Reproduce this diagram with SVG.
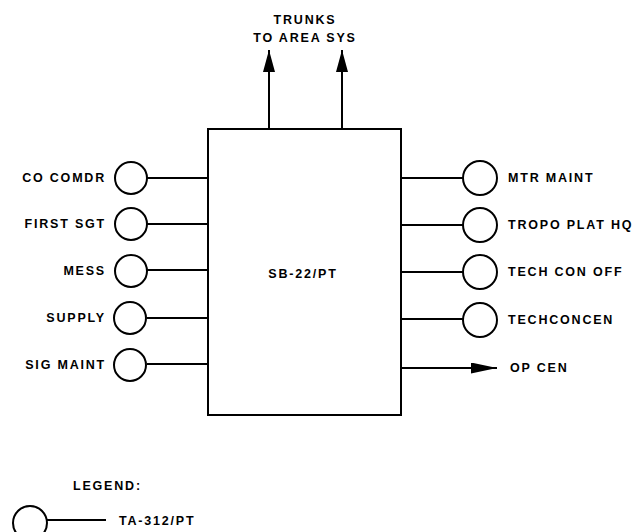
<svg xmlns="http://www.w3.org/2000/svg" width="638" height="532" viewBox="0 0 638 532">
<style>
text{font-family:"Liberation Sans",Arial,sans-serif;font-weight:bold;font-size:12.5px;letter-spacing:1.8px;fill:#000}
.l{text-anchor:end}
.c{text-anchor:middle}
circle{fill:#fff;stroke:#000;stroke-width:2}
line,rect{stroke:#000;stroke-width:2}
rect{fill:#fff}
</style>
<defs>
<marker id="up" markerWidth="22" markerHeight="12" refX="22" refY="6" orient="auto" markerUnits="userSpaceOnUse" viewBox="0 0 22 12">
<path d="M0,0 L22,6 L0,12 Z" fill="#000"/>
</marker>
<marker id="rt" markerWidth="26" markerHeight="11" refX="26" refY="5.5" orient="auto" markerUnits="userSpaceOnUse" viewBox="0 0 26 11">
<path d="M0,0 L26,5.5 L0,11 Z" fill="#000"/>
</marker>
</defs>
<g id="connectors">
<line x1="269" y1="129" x2="269" y2="50" marker-end="url(#up)"/>
<line x1="342" y1="129" x2="342" y2="50" marker-end="url(#up)"/>
<line x1="147" y1="178" x2="208" y2="178"/>
<line x1="147" y1="224" x2="208" y2="224"/>
<line x1="147" y1="270" x2="208" y2="270"/>
<line x1="147" y1="318" x2="208" y2="318"/>
<line x1="147" y1="364" x2="208" y2="364"/>
<line x1="401" y1="178" x2="463" y2="178"/>
<line x1="401" y1="225" x2="463" y2="225"/>
<line x1="401" y1="272" x2="463" y2="272"/>
<line x1="401" y1="319" x2="463" y2="319"/>
<line x1="401" y1="368" x2="497" y2="368" marker-end="url(#rt)"/>
</g>
<g id="trunks"><text class="c" x="305" y="24">TRUNKS</text><text class="c" x="305" y="42">TO AREA SYS</text></g>
<g id="sb22"><rect x="208" y="129" width="193" height="286"/><text class="c" x="303" y="278">SB-22/PT</text></g>
<g id="co-comdr"><circle cx="131" cy="178" r="16"/><text class="l" x="106" y="182">CO COMDR</text></g>
<g id="first-sgt"><circle cx="131" cy="224" r="16"/><text class="l" x="106" y="228">FIRST SGT</text></g>
<g id="mess"><circle cx="131" cy="271" r="16"/><text class="l" x="106" y="275">MESS</text></g>
<g id="supply"><circle cx="130" cy="318" r="16"/><text class="l" x="106" y="322">SUPPLY</text></g>
<g id="sig-maint"><circle cx="130" cy="365" r="16"/><text class="l" x="106" y="369">SIG MAINT</text></g>
<g id="mtr-maint"><circle cx="480" cy="178" r="17"/><text x="508" y="182">MTR MAINT</text></g>
<g id="tropo"><circle cx="480" cy="225" r="17"/><text x="508" y="229">TROPO PLAT HQ</text></g>
<g id="tech-con-off"><circle cx="480" cy="272" r="17"/><text x="508" y="276">TECH CON OFF</text></g>
<g id="techconcen"><circle cx="480" cy="320" r="17"/><text x="508" y="324">TECHCONCEN</text></g>
<g id="op-cen"><text x="510" y="372">OP CEN</text></g>
<g id="legend"><text x="73" y="490">LEGEND:</text><circle cx="30" cy="523" r="17"/><line x1="47" y1="520" x2="106" y2="520"/><text x="119" y="525">TA-312/PT</text></g>
</svg>
